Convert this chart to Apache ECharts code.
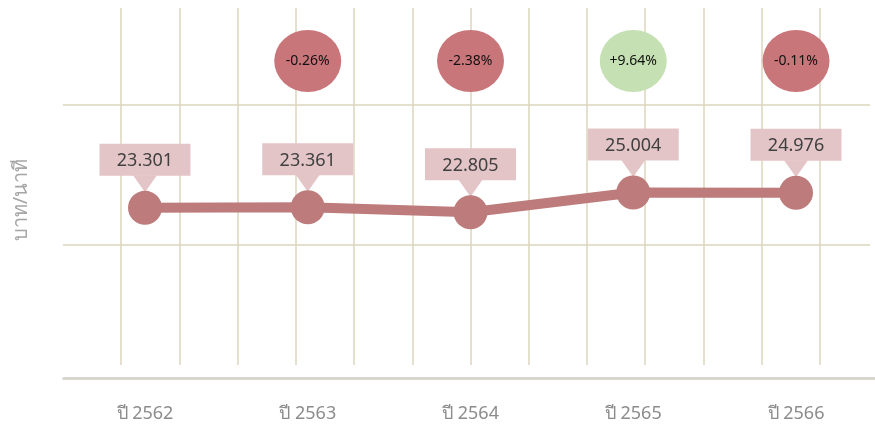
<!DOCTYPE html>
<html>
<head>
<meta charset="utf-8">
<script src="https://cdn.jsdelivr.net/npm/echarts@6/dist/echarts.min.js"></script>
<style>
  html, body { margin: 0; padding: 0; background: #fff; overflow: hidden; }
  #chart { width: 878px; height: 428px; }
</style>
</head>
<body>
<div id="chart"></div>
<script>
const years = ['ปี 2562', 'ปี 2563', 'ปี 2564', 'ปี 2565', 'ปี 2566']
const rates = [23.301, 23.361, 22.805, 25.004, 24.976]
const changes = [null, -0.26, -2.38, 9.64, -0.11]

const font = 'Noto Sans, sans-serif'
const lineColor = '#bd7b7b'
const labelBg = '#e4c5c7'
const gridColor = '#dbd6bd'

const chart = echarts.init(document.getElementById('chart'))

let option = {
  animation: false,
  textStyle: { fontFamily: font },
  grid: [
    // main line
    { left: 63.6, right: 0.6, top: 8, bottom: 50 },
    // vertical grid lines
    { left: 63, width: 816, top: 8, bottom: 63 },
    // horizontal grid lines
    { left: 63, right: 8, top: 105, height: 140 },
    // bubble row
    { left: 63.6, right: 0.6, top: 28, height: 66 }
  ],
  xAxis: [
    {
      gridIndex: 0,
      type: 'category',
      data: years,
      axisLine: { lineStyle: { color: '#d8d7d0', width: 3 } },
      axisTick: { show: false },
      axisLabel: { color: '#8c8c8c', fontSize: 18, margin: 27, fontFamily: font }
    },
    {
      gridIndex: 1,
      type: 'value',
      min: 0,
      max: 14,
      interval: 1,
      axisLine: { show: false },
      axisTick: { show: false },
      axisLabel: { show: false },
      splitLine: { show: true, showMinLine: false, showMaxLine: false, lineStyle: { color: gridColor, width: 1.5 } }
    },
    {
      gridIndex: 2,
      type: 'value',
      show: false
    },
    {
      gridIndex: 3,
      type: 'category',
      data: years,
      show: false
    }
  ],
  yAxis: [
    {
      gridIndex: 0,
      type: 'value',
      min: 4.4,
      max: 45.5,
      name: 'บาท/นาที',
      nameLocation: 'middle',
      nameRotate: 90,
      nameGap: 32,
      nameTextStyle: { color: '#a6a6a6', fontSize: 20, fontFamily: font, padding: [0, 14, 0, 0] },
      axisLine: { show: false },
      axisTick: { show: false },
      axisLabel: { show: false },
      splitLine: { show: false }
    },
    {
      gridIndex: 1,
      type: 'value',
      show: false
    },
    {
      gridIndex: 2,
      type: 'value',
      min: 0,
      max: 1,
      interval: 1,
      axisLine: { show: false },
      axisTick: { show: false },
      axisLabel: { show: false },
      splitLine: { show: true, lineStyle: { color: gridColor, width: 1.5 } }
    },
    {
      gridIndex: 3,
      type: 'value',
      min: 0,
      max: 1,
      show: false
    }
  ],
  series: [
    {
      type: 'scatter',
      xAxisIndex: 0,
      yAxisIndex: 0,
      z: 1,
      symbol: 'triangle',
      symbolRotate: 180,
      symbolSize: [24, 17],
      symbolOffset: [0, -24],
      itemStyle: { color: labelBg, opacity: 1 },
      data: rates
    },
    {
      type: 'line',
      xAxisIndex: 0,
      yAxisIndex: 0,
      z: 3,
      data: rates,
      symbol: 'circle',
      symbolSize: 34,
      lineStyle: { color: lineColor, width: 10 },
      itemStyle: { color: lineColor },
      label: {
        show: true,
        position: 'top',
        distance: 15,
        formatter: p => p.value.toFixed(3),
        backgroundColor: labelBg,
        width: 91,
        padding: [6, 0, 3, 0],
        lineHeight: 23,
        align: 'center',
        color: '#404040',
        fontSize: 18,
        fontFamily: font
      }
    },
    {
      type: 'scatter',
      xAxisIndex: 3,
      yAxisIndex: 3,
      symbol: 'circle',
      symbolSize: [67, 62],
      data: changes.map(v => v == null ? null : {
        value: 0.5,
        change: v,
        itemStyle: { color: v >= 0 ? '#c5e0b3' : '#c9767a', opacity: 1 }
      }),
      label: {
        show: true,
        position: 'inside',
        formatter: p => (p.data.change > 0 ? '+' : '') + p.data.change.toFixed(2) + '%',
        color: '#111',
        fontSize: 14,
        fontFamily: font
      }
    }
  ]
}

chart.setOption(option)
</script>
</body>
</html>
